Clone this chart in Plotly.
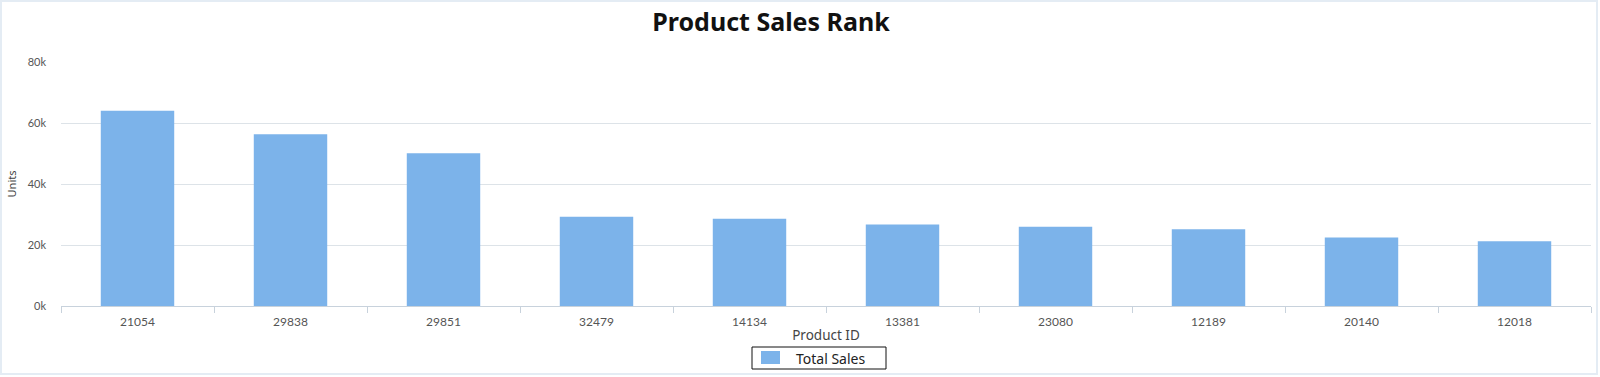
import plotly.graph_objects as go

product_ids = ["21054", "29838", "29851", "32479", "14134", "13381", "23080", "12189", "20140", "12018"]
total_sales = [64000, 56300, 50100, 29300, 28600, 26700, 26000, 25200, 22500, 21200]
y_tick_vals = [0, 20000, 40000, 60000, 80000]
y_tick_text = ["0k", "20k", "40k", "60k", "80k"]
series_name = "Total Sales"
bar_color = "#7cb3ea"

W, H = 1600, 377
L, R, T, B = 61, 9, 62, 71
PW, PH = W - L - R, H - T - B


def px(x):
    return (x - L) / PW


def py(y):
    return (H - B - y) / PH


fig = go.Figure()
fig.add_trace(go.Bar(
    x=product_ids, y=total_sales, name=series_name,
    marker=dict(color=bar_color, line=dict(width=0)),
    showlegend=False,
))

fig.update_layout(
    width=W, height=H,
    margin=dict(l=L, r=R, t=T, b=B, autoexpand=False),
    paper_bgcolor="white", plot_bgcolor="white",
    bargap=0.52,
    font=dict(family="Lato, Noto Sans, sans-serif", color="#555555", size=11),
    title=dict(text="<b>Product Sales Rank</b>", x=771 / W, xanchor="center",
               y=1 - 22 / H, yanchor="middle",
               font=dict(family="Noto Sans, sans-serif", size=25, color="#111111")),
    showlegend=False,
    xaxis=dict(type="category", tickson="boundaries", ticks="outside", ticklen=6,
               tickcolor="#c8d2dc", showline=True, linecolor="#c8d2dc", linewidth=1,
               showgrid=False, tickfont=dict(size=12, color="#555555"),
               ticklabelstandoff=5,
               title=dict(text="Product ID", standoff=2,
                          font=dict(family="Noto Sans, sans-serif", size=13.5, color="#444444"))),
    yaxis=dict(range=[0, 80000], tickvals=y_tick_vals, ticktext=y_tick_text,
               showgrid=True, gridcolor="#dde3e8", gridwidth=1, zeroline=False,
               tickfont=dict(size=11, color="#555555"), ticklabelstandoff=14,
               title=dict(text="Units", standoff=8,
                          font=dict(family="Noto Sans, sans-serif", size=11, color="#444444"))),
)
# page border
fig.add_shape(type="rect", xref="paper", yref="paper",
              x0=px(1), x1=px(W - 3), y0=py(H - 3), y1=py(1),
              line=dict(color="#e4ecf4", width=2), layer="below")
# legend box
fig.add_shape(type="rect", xref="paper", yref="paper",
              x0=px(752), x1=px(886), y0=py(369), y1=py(347),
              line=dict(color="#111111", width=1), fillcolor="white")
fig.add_shape(type="rect", xref="paper", yref="paper",
              x0=px(761), x1=px(780), y0=py(364), y1=py(351),
              line=dict(width=0), fillcolor=bar_color)
fig.add_annotation(xref="paper", yref="paper", x=px(794), y=py(358),
                   xanchor="left", yanchor="middle", showarrow=False,
                   text=series_name,
                   font=dict(family="Noto Sans, sans-serif", size=14, color="#222222"))
fig.write_html("out.html")
